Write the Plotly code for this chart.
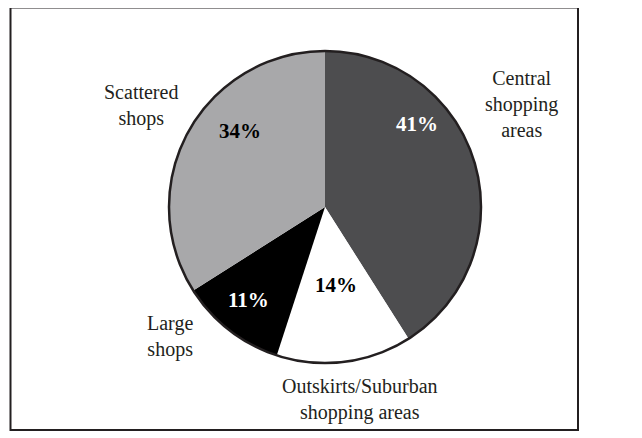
import plotly.graph_objects as go

categories = ["Central shopping areas", "Outskirts/Suburban shopping areas", "Large shops", "Scattered shops"]
label_text = ["Central<br>shopping<br>areas", "Outskirts/Suburban<br>shopping areas", "Large<br>shops", "Scattered<br>shops"]
shares = [41, 14, 11, 34]
slice_colors = ["#4d4d4f", "#ffffff", "#000000", "#a8a8aa"]
text_colors = ["#ffffff", "#000000", "#ffffff", "#000000"]

SERIF = "Liberation Serif, Times New Roman, Times, serif"
W, H = 642, 438
OFF = 8  # page body margin
cx, cy, r = 325, 207, 156

def px(x):
    return (x - OFF) / W

def py(y):
    return 1 - (y - OFF) / H

fig = go.Figure(go.Pie(
    labels=categories,
    values=shares,
    sort=False,
    direction="clockwise",
    rotation=0,
    marker=dict(colors=slice_colors, line=dict(width=0)),
    textinfo="none",
    domain=dict(x=[px(cx - r), px(cx + r)], y=[py(cy + r), py(cy - r)]),
    showlegend=False,
    hoverinfo="label+percent",
))

fig.add_shape(type="circle", xref="paper", yref="paper",
              x0=px(cx - r), x1=px(cx + r), y0=py(cy + r), y1=py(cy - r),
              line=dict(color="#231f20", width=2.5))
fig.add_shape(type="rect", xref="paper", yref="paper",
              x0=px(10.5), x1=px(578), y0=py(430), y1=py(7.5),
              line=dict(color="#231f20", width=2))

pct_pos = [(417, 124), (336, 285), (248, 300), (240, 131)]
for v, c, (x, y) in zip(shares, text_colors, pct_pos):
    fig.add_annotation(text=f"<b>{v}%</b>", x=px(x), y=py(y), xref="paper", yref="paper",
                       showarrow=False, xanchor="center", yanchor="middle",
                       font=dict(family=SERIF, size=21, color=c))

label_pos = [(521, 104), (360, 399), (170, 336), (141, 106)]
for t, (x, y) in zip(label_text, label_pos):
    fig.add_annotation(text=t, x=px(x), y=py(y), xref="paper", yref="paper",
                       showarrow=False, xanchor="center", yanchor="middle",
                       font=dict(family=SERIF, size=20, color="#231f20"))

fig.update_layout(width=W, height=H, margin=dict(l=0, r=0, t=0, b=0),
                  paper_bgcolor="white", plot_bgcolor="white",
                  font=dict(family=SERIF))
fig.write_html("out.html")
